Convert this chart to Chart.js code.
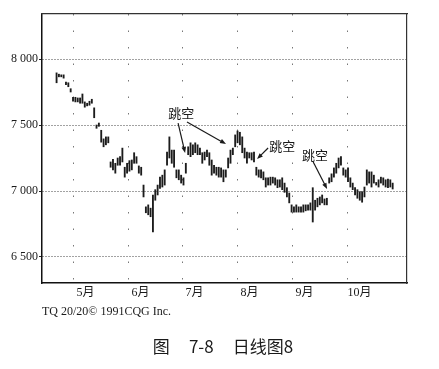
<!DOCTYPE html>
<html>
<head>
<meta charset="utf-8">
<script src="https://cdn.jsdelivr.net/npm/chart.js@4"></script>
<style>
  html, body { margin: 0; padding: 0; background: #fff; }
  #wrap { position: relative; width: 439px; height: 369px; }
  canvas { position: absolute; left: 0; top: 0; }
  .note { position: absolute; color: #1a1a1a; white-space: pre; }
  #src { left: 42px; top: 304px; font: 12px 'Liberation Serif', serif; }
  #cap { left: 0; width: 446px; text-align: center; top: 333px; font: 17px 'Noto Sans CJK SC', 'Liberation Sans', sans-serif; }
</style>
</head>
<body>
<div id="wrap">
  <canvas id="c" width="439" height="369"></canvas>
  <div class="note" id="src">TQ 20/20© 1991CQG Inc.</div>
  <div class="note" id="cap">图     7-8     日线图8</div>
</div>
<script>
// Daily highs / lows, one entry per trading day, late April to late October
const highs = [
  7895,7885,7880,7880,7825,7820,7775,7710,7710,7705,7705,7735,7675,7665,7680,7695,
  7630,7500,7515,7460,7395,7410,7410,7220,7240,7210,7250,7260,7325,7180,7210,7230,
  7235,7290,7260,7190,7180,7045,6880,6895,6870,6970,7010,7045,7105,7120,7160,7295,
  7410,7310,7310,7160,7160,7120,7100,7210,7335,7365,7350,7365,7350,7325,7290,7295,
  7310,7290,7235,7195,7180,7180,7175,7160,7160,7250,7310,7325,7425,7455,7445,7410,
  7325,7295,7290,7290,7295,7180,7160,7160,7145,7100,7100,7105,7105,7100,7085,7085,
  7100,7060,7025,6985,6895,6880,6895,6880,6880,6895,6895,6895,6910,7025,6930,6945,
  6955,6970,6940,6945,7100,7130,7175,7210,7250,7260,7175,7160,7175,7100,7060,7025,
  7010,6995,6995,7030,7160,7145,7145,7120,7065,7085,7105,7100,7085,7090,7085,7060
];
const lows = [
  7820,7865,7865,7855,7805,7790,7750,7680,7675,7675,7665,7665,7635,7645,7650,7665,
  7555,7475,7490,7370,7335,7350,7365,7180,7160,7135,7195,7195,7220,7105,7135,7150,
  7160,7210,7210,7135,7120,6955,6835,6820,6805,6690,6930,6970,7020,7030,7045,7195,
  7250,7210,7180,7100,7085,7060,7045,7135,7275,7260,7275,7290,7275,7275,7210,7235,
  7260,7195,7120,7135,7120,7105,7105,7070,7105,7175,7210,7275,7335,7365,7350,7290,
  7250,7210,7250,7235,7220,7120,7105,7100,7085,7030,7045,7045,7060,7045,7025,7030,
  7010,6990,6955,6910,6840,6840,6840,6840,6840,6840,6850,6855,6855,6765,6855,6880,
  6895,6910,6895,6895,7060,7070,7105,7135,7175,7195,7120,7105,7070,7030,7010,6970,
  6945,6930,6915,6955,7045,7060,7030,7060,7045,7030,7060,7045,7030,7025,7030,7015
];
// Month boundaries, in trading-day index units, and their labels
const monthPos = [7.2, 30.6, 53.6, 77.0, 100.4, 123.8];
const monthLabels = ['5月', '6月', '7月', '8月', '9月', '10月'];
// Price axis tick labels
const priceTicks = [6500, 7000, 7500, 8000];
// "跳空" (gap) notes: text anchor and arrows, in (day index, price) units
const gapTexts = [
  { i: 53, p: 7591 },
  { i: 96, p: 7341 },
  { i: 110, p: 7273 }
];
const gapArrows = [
  { from: [51.7, 7515], to: [54.7, 7288] },
  { from: [55.5, 7523], to: [72.1, 7356] },
  { from: [90.0, 7326], to: [85.3, 7242] },
  { from: [109.2, 7220], to: [115.1, 7015] }
];

const serif = "'Liberation Serif', 'Noto Sans CJK SC', serif";
const ink = '#1a1a1a';

const notesPlugin = {
  id: 'gapNotes',
  afterDatasetsDraw(chart) {
    const { ctx, scales: { x, y } } = chart;
    ctx.save();
    ctx.fillStyle = ink;
    ctx.strokeStyle = ink;
    ctx.font = "13px 'Noto Sans CJK SC', sans-serif";
    ctx.textAlign = 'center';
    ctx.textBaseline = 'middle';
    gapTexts.forEach(t => ctx.fillText('跳空', x.getPixelForValue(t.i), y.getPixelForValue(t.p)));
    ctx.lineWidth = 1.2;
    gapArrows.forEach(a => {
      const x1 = x.getPixelForValue(a.from[0]), y1 = y.getPixelForValue(a.from[1]);
      const x2 = x.getPixelForValue(a.to[0]), y2 = y.getPixelForValue(a.to[1]);
      const ang = Math.atan2(y2 - y1, x2 - x1);
      const L = 6, W = 2.3;
      ctx.beginPath();
      ctx.moveTo(x1, y1);
      ctx.lineTo(x2 - Math.cos(ang) * L * 0.8, y2 - Math.sin(ang) * L * 0.8);
      ctx.stroke();
      ctx.beginPath();
      ctx.moveTo(x2, y2);
      ctx.lineTo(x2 - Math.cos(ang) * L - Math.sin(ang) * W, y2 - Math.sin(ang) * L + Math.cos(ang) * W);
      ctx.lineTo(x2 - Math.cos(ang) * L + Math.sin(ang) * W, y2 - Math.sin(ang) * L - Math.cos(ang) * W);
      ctx.closePath();
      ctx.fill();
    });
    ctx.restore();
  }
};

const bgPlugin = {
  id: 'bg',
  beforeDraw(chart) {
    const { ctx } = chart;
    ctx.save();
    ctx.fillStyle = '#fff';
    ctx.fillRect(0, 0, chart.width, chart.height);
    ctx.restore();
  }
};

new Chart(document.getElementById('c'), {
  type: 'bar',
  data: {
    datasets: [{
      data: highs.map((h, i) => ({ x: i, y: [lows[i], h] })),
      backgroundColor: '#1c1c1c',
      borderWidth: 0,
      barThickness: 1.2,
      grouped: false
    }]
  },
  options: {
    responsive: false,
    animation: false,
    events: [],
    layout: { padding: { left: 0, top: 14, right: 32, bottom: 64 } },
    plugins: { legend: { display: false }, tooltip: { enabled: false } },
    scales: {
      x: {
        type: 'linear',
        position: 'bottom',
        offset: false,
        min: -6.2,
        max: 149.1,
        afterBuildTicks: s => { s.ticks = monthPos.map(v => ({ value: v })); },
        afterFit: s => { s.height = 22; },
        ticks: {
          callback: (v, idx) => monthLabels[idx],
          labelOffset: 12,
          padding: 3,
          maxRotation: 0,
          autoSkip: false,
          color: ink,
          font: { family: serif, size: 12 }
        },
        grid: { offset: false, drawTicks: false, color: '#777', lineWidth: 1 },
        border: { display: true, color: '#111', width: 1.5, dash: [1.5, 15] }
      },
      y: {
        type: 'linear',
        position: 'left',
        min: 6303,
        max: 8341,
        afterBuildTicks: s => { s.ticks = priceTicks.map(v => ({ value: v })); },
        afterFit: s => { s.width = 42; },
        ticks: {
          callback: v => String(v).replace(/(\d)(\d{3})$/, '$1 $2'),
          padding: 1,
          color: ink,
          font: { family: serif, size: 12 }
        },
        grid: { color: '#444', lineWidth: 1, tickLength: 3, tickColor: '#222' },
        border: { display: true, color: '#111', width: 1.5, dash: [1, 2] }
      },
      xTop: {
        type: 'linear',
        position: 'top',
        display: true,
        afterFit: s => { s.height = 0; },
        ticks: { display: false },
        grid: { display: false, drawTicks: false },
        border: { display: true, color: '#333', width: 1.2 }
      },
      yRight: {
        type: 'linear',
        position: 'right',
        display: true,
        afterFit: s => { s.width = 0; },
        ticks: { display: false },
        grid: { display: false, drawTicks: false },
        border: { display: true, color: '#333', width: 1.2 }
      }
    }
  },
  plugins: [bgPlugin, notesPlugin]
});
</script>
</body>
</html>
